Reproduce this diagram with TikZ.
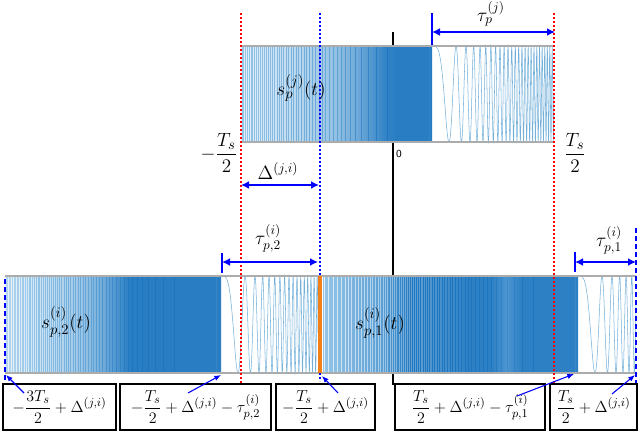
\documentclass[tikz,border=0pt]{standalone}
\usepackage{amsmath}
\usetikzlibrary{arrows.meta}
\definecolor{mblue}{RGB}{0,114,189}
\definecolor{lb}{RGB}{150,198,232}
\definecolor{mb}{RGB}{95,162,214}
\definecolor{db}{RGB}{28,118,192}
\definecolor{borange}{RGB}{242,128,24}
\pgfdeclarehorizontalshading{denseT}{100bp}{color(0bp)=(lb); color(25bp)=(lb); color(50bp)=(mb); color(62.5bp)=(db); color(75bp)=(db); color(100bp)=(db)}
\pgfdeclarehorizontalshading{denseL}{100bp}{color(0bp)=(lb!70!white); color(25bp)=(lb!70!white); color(31bp)=(lb); color(45bp)=(mb); color(54bp)=(db); color(75bp)=(db); color(100bp)=(db)}
\pgfdeclarehorizontalshading{denseR}{100bp}{color(0bp)=(lb); color(25bp)=(lb); color(36bp)=(mb); color(42.5bp)=(db); color(58bp)=(db); color(61bp)=(mb!50!db); color(64bp)=(db); color(75bp)=(db); color(100bp)=(db)}
\tikzset{
 redline/.style={red, line width=1.4pt, dash pattern=on 1.3pt off 1.7pt},
 bluedot/.style={blue, line width=1.4pt, dash pattern=on 1.3pt off 1.7pt},
 bluedash/.style={blue, line width=1.6pt, dash pattern=on 4pt off 2pt},
 dimarrow/.style={blue, line width=1.3pt, {Latex[length=6pt,width=6pt]}-{Latex[length=6pt,width=6pt]}},
 tickbar/.style={blue, line width=1.8pt},
 pointer/.style={blue, line width=0.8pt, -{Latex[length=5pt,width=4pt]}},
 labelbox/.style={draw=black, line width=0.8pt, inner sep=0pt, fill=white, minimum height=34.5pt, font=\fontsize{13}{15}\selectfont},
 mathlbl/.style={font=\fontsize{14}{16}\selectfont, inner sep=0pt},
 siglbl/.style={font=\fontsize{15}{17}\selectfont, inner sep=0pt},
 biglbl/.style={font=\fontsize{15}{17}\selectfont, inner sep=0pt},
 stripe/.style={white, line width=0.35pt},
 sparsechirp/.style={mblue, line width=0.4pt, opacity=0.55},
 sigframe/.style={gray!65, line width=0.9pt},
 axisline/.style={black, line width=1.5pt},
 orangebar/.style={borange, line width=3pt}
}
\begin{document}
\begin{tikzpicture}[x=0.75pt,y=-0.75pt]
\useasboundingbox (0,0) rectangle (640,432);
% axis (behind signals)
\coordinate (axT) at (393,32);
\coordinate (axB) at (393,385);
\draw[axisline] (axT) -- (axB);
\node[font=\sffamily\footnotesize, inner sep=0pt] (zero) at (399,154) {0};

% ---------- top signal s_p^{(j)} ----------
\fill[white] (241,46) rectangle (554,142);
\shade[shading=denseT] (241,46) rectangle (432,142);
\foreach \k in {26,...,169}{
  \pgfmathsetmacro\xx{119+17*sqrt(2*\k)}
  \pgfmathsetmacro\op{max(0.06,0.75-0.85*(\xx-241)/191)}
  \draw[stripe, opacity=\op] (\xx,46) -- (\xx,142);
}
\draw[sparsechirp] plot[domain=432:554, samples=600] (\x, {94-48*cos(180*mod(((\x-432)/17)*((\x-432)/17),2))});
\draw[sigframe] (241,46) -- (554,46) (241,142) -- (554,142);

% ---------- bottom signals ----------
\fill[white] (5,276) rectangle (636,373);
\shade[shading=denseL] (5,276) rectangle (221,373);
\foreach \k in {17,...,171}{
  \pgfmathsetmacro\xx{17*sqrt(2*\k)-94}
  \pgfmathsetmacro\op{max(0.06,0.75-1.2*(\xx-5)/216)}
  \draw[stripe, opacity=\op] (\xx,276) -- (\xx,373);
}
\shade[shading=denseR] (323,276) rectangle (578,373);
\foreach \k in {6,...,169}{
  \pgfmathsetmacro\xx{265+17*sqrt(2*\k)}
  \pgfmathsetmacro\op{max(0.08,0.7-1.1*(\xx-323)/255)}
  \draw[stripe, opacity=\op] (\xx,276) -- (\xx,373);
}
\draw[sparsechirp] plot[domain=221:318, samples=500] (\x, {324.5-48.5*cos(180*mod(((\x-221)/17)*((\x-221)/17),2))});
\draw[sparsechirp] plot[domain=578:636, samples=300] (\x, {324.5-48.5*cos(180*mod(((\x-578)/17)*((\x-578)/17),2))});
\draw[sigframe] (5,276) -- (636,276) (5,373) -- (636,373);

% vertical reference lines
\coordinate (rA1) at (241,13); \coordinate (rA2) at (241,383);
\coordinate (rB1) at (554,13); \coordinate (rB2) at (554,383);
\coordinate (bA1) at (320,13); \coordinate (bA2) at (320,381);
\draw[bluedot] (bA1) -- (bA2);
\coordinate (ob1) at (320,276); \coordinate (ob2) at (320,373);
\draw[orangebar] (ob1) -- (ob2);
\draw[redline] (rA1) -- (rA2);
\draw[redline] (rB1) -- (rB2);
\coordinate (dL1) at (5,279); \coordinate (dL2) at (5,398);
\coordinate (dR1) at (636,228); \coordinate (dR2) at (636,398);
\draw[bluedash] (dL1) -- (dL2);
\draw[bluedash] (dR1) -- (dR2);

% signal labels
\node[siglbl] (sj) at (301,88) {$s_p^{(j)}(t)$};
\node[siglbl] (si2) at (66,322) {$s_{p,2}^{(i)}(t)$};
\node[siglbl] (si1) at (380,323) {$s_{p,1}^{(i)}(t)$};
\node[biglbl] (mTs) at (219,153) {$-\dfrac{T_s}{2}$};
\node[biglbl] (pTs) at (575,153) {$\dfrac{T_s}{2}$};

% tau_p^{(j)}
\coordinate (tj1) at (432,13); \coordinate (tj2) at (432,45);
\draw[tickbar] (tj1) -- (tj2);
\coordinate (tjL) at (432,32); \coordinate (tjR) at (555,32);
\draw[dimarrow] (tjL) -- (tjR);
\node[mathlbl] (tjlbl) at (491,14) {$\tau_p^{(j)}$};

% Delta
\coordinate (dlL) at (241,185); \coordinate (dlR) at (319,185);
\draw[dimarrow] (dlL) -- (dlR);
\node[mathlbl] (dllbl) at (278,171) {$\Delta^{(j,i)}$};

% tau_{p,2}
\coordinate (t21) at (222,253); \coordinate (t22) at (222,273);
\draw[tickbar] (t21) -- (t22);
\coordinate (t2L) at (222,262); \coordinate (t2R) at (318,262);
\draw[dimarrow] (t2L) -- (t2R);
\node[mathlbl] (t2lbl) at (268,238) {$\tau_{p,2}^{(i)}$};

% tau_{p,1}
\coordinate (t11) at (575,252); \coordinate (t12) at (575,272);
\draw[tickbar] (t11) -- (t12);
\coordinate (t1L) at (575,262); \coordinate (t1R) at (636,262);
\draw[dimarrow] (t1L) -- (t1R);
\node[mathlbl] (t1lbl) at (609,240) {$\tau_{p,1}^{(i)}$};

% boxes
\node[labelbox, minimum width=84.75pt] (b1) at (59.5,407) {$-\dfrac{3T_s}{2}+\Delta^{(j,i)}$};
\node[labelbox, minimum width=113.25pt] (b2) at (195.5,407) {$-\dfrac{T_s}{2}+\Delta^{(j,i)}-\tau_{p,2}^{(i)}$};
\node[labelbox, minimum width=74.25pt] (b3) at (325.5,407) {$-\dfrac{T_s}{2}+\Delta^{(j,i)}$};
\node[labelbox, minimum width=112.5pt] (b4) at (470,407) {$\dfrac{T_s}{2}+\Delta^{(j,i)}-\tau_{p,1}^{(i)}$};
\node[labelbox, minimum width=65.25pt] (b5) at (593.5,407) {$\dfrac{T_s}{2}+\Delta^{(j,i)}$};

% pointers
\coordinate (p1s) at (24,393); \coordinate (p1e) at (6,375);
\coordinate (p2s) at (188,393); \coordinate (p2e) at (221,375);
\coordinate (p3s) at (338,393); \coordinate (p3e) at (322,376);
\coordinate (p4s) at (517,396); \coordinate (p4e) at (574,374);
\coordinate (p5s) at (612,394); \coordinate (p5e) at (635,375);
\draw[pointer] (p1s) -- (p1e);
\draw[pointer] (p2s) -- (p2e);
\draw[pointer] (p3s) -- (p3e);
\draw[pointer] (p4s) -- (p4e);
\draw[pointer] (p5s) -- (p5e);
\end{tikzpicture}
\end{document}
